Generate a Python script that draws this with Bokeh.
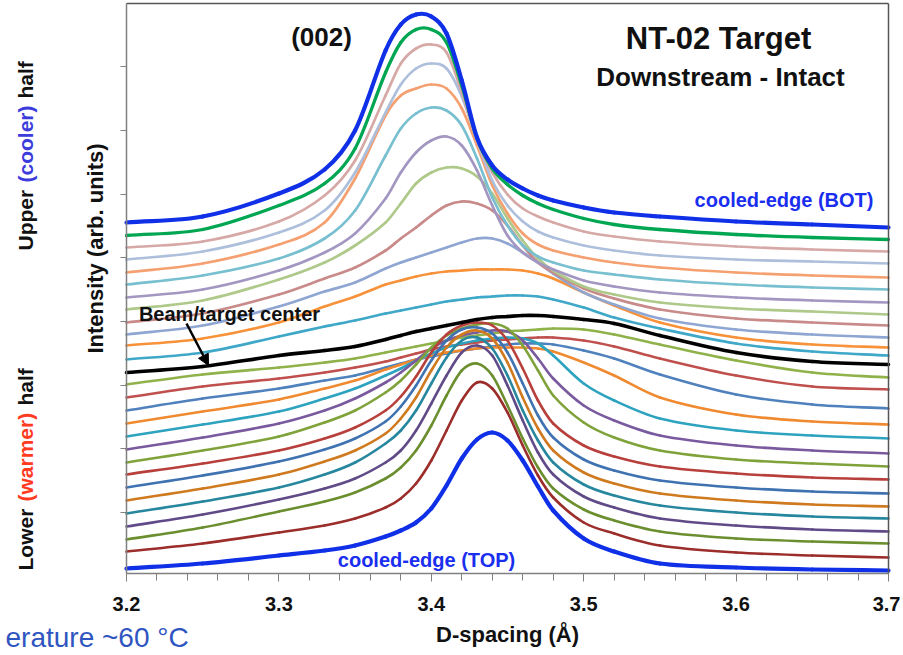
import math
from bokeh.plotting import figure
from bokeh.models import Range1d, FixedTicker, Label, Arrow, NormalHead, LinearAxis
from bokeh.embed import file_html
from bokeh.resources import INLINE

# ---------------- data (intensity, arb. units) ----------------
d_spacing = [3.20, 3.25, 3.30, 3.33, 3.35, 3.37, 3.38, 3.39, 3.40, 3.41, 3.42, 3.43,
             3.44, 3.45, 3.46, 3.47, 3.48, 3.50, 3.52, 3.55, 3.60, 3.65, 3.70]

# upper (cooler) half, from the cooled edge (BOT) down to the centre
bot_edge   = [351, 357, 380, 404, 443, 523, 549, 559, 557, 540, 493, 436, 408, 394, 385, 378, 373, 366, 361, 357, 352, 349, 346]
upper_02   = [338, 344, 368, 390, 425, 501, 531, 544, 544, 531, 488, 435, 405, 389, 378, 370, 364, 355, 349, 344, 339, 336, 334]
upper_03   = [326, 332, 352, 378, 413, 478, 510, 525, 529, 521, 481, 433, 401, 379, 365, 357, 351, 342, 337, 332, 327, 324, 322]
upper_04   = [314, 322, 341, 363, 401, 461, 489, 505, 510, 505, 477, 433, 393, 368, 352, 342, 336, 328, 323, 318, 314, 312, 310]
upper_05   = [301, 310, 329, 351, 395, 458, 478, 485, 489, 485, 465, 428, 388, 360, 340, 329, 323, 316, 311, 306, 301, 298, 296]
upper_06   = [289, 298, 315, 335, 363, 418, 445, 460, 466, 463, 448, 415, 376, 348, 328, 317, 311, 303, 299, 294, 289, 286, 284]
upper_07   = [276, 284, 303, 321, 340, 375, 401, 421, 433, 437, 428, 403, 368, 338, 321, 311, 304, 293, 287, 281, 276, 273, 271]
upper_08   = [264, 273, 294, 311, 328, 351, 370, 390, 401, 406, 405, 397, 380, 355, 333, 315, 303, 287, 279, 271, 265, 262, 259]
upper_09   = [251, 260, 279, 295, 306, 323, 335, 346, 358, 368, 372, 370, 363, 348, 328, 311, 301, 285, 275, 264, 255, 251, 248]
upper_10   = [239, 248, 267, 282, 291, 305, 311, 316, 321, 326, 331, 335, 335, 330, 321, 311, 300, 281, 269, 255, 244, 239, 236]
upper_11   = [228, 235, 251, 267, 277, 289, 293, 297, 300, 302, 303, 304, 304, 304, 303, 300, 295, 281, 268, 251, 236, 229, 226]
upper_12   = [214, 221, 237, 247, 253, 260, 263, 266, 269, 272, 274, 276, 277, 278, 278, 277, 274, 266, 256, 245, 230, 222, 218]
center     = [201, 207, 218, 223, 227, 234, 238, 242, 245, 248, 251, 254, 256, 257, 258, 258, 257, 254, 250, 238, 221, 212, 209]
# lower (warmer) half, from the centre down to the cooled edge (TOP)
lower_14   = [189, 199, 206, 211, 215, 221, 224, 227, 230, 233, 236, 238, 240, 242, 243, 244, 245, 244, 239, 229, 213, 201, 196]
lower_13   = [176, 187, 195, 201, 206, 212, 216, 220, 224, 227, 229, 231, 233, 234, 235, 236, 236, 233, 227, 215, 198, 187, 184]
lower_12   = [163, 175, 185, 193, 198, 206, 210, 214, 217, 220, 223, 225, 227, 229, 230, 230, 229, 223, 215, 199, 179, 169, 165]
lower_11   = [150, 162, 174, 185, 193, 204, 209, 214, 218, 221, 223, 225, 226, 226, 226, 225, 222, 211, 198, 176, 159, 152, 149]
lower_10   = [137, 149, 162, 175, 185, 198, 205, 213, 220, 226, 230, 233, 235, 236, 235, 230, 218, 190, 173, 155, 143, 138, 135]
lower_09   = [124, 136, 150, 163, 175, 191, 201, 213, 225, 233, 238, 241, 243, 242, 233, 215, 195, 168, 153, 138, 128, 123, 120]
lower_08   = [111, 123, 137, 151, 163, 181, 193, 209, 226, 238, 245, 249, 250, 245, 228, 203, 178, 151, 136, 123, 114, 110, 107]
lower_07   = [99, 110, 123, 135, 146, 163, 177, 197, 221, 239, 248, 251, 248, 233, 205, 173, 150, 128, 117, 107, 100, 96, 94]
lower_06   = [86, 98, 112, 124, 135, 152, 167, 188, 213, 233, 244, 246, 240, 221, 190, 158, 136, 114, 103, 93, 86, 82, 80]
lower_05   = [73, 85, 99, 112, 123, 140, 155, 176, 203, 226, 239, 243, 235, 211, 176, 145, 123, 101, 90, 80, 73, 69, 67]
lower_04   = [60, 72, 86, 99, 111, 130, 143, 163, 190, 216, 233, 236, 225, 198, 163, 133, 111, 89, 78, 68, 61, 57, 55]
lower_03   = [47, 59, 74, 85, 95, 111, 123, 143, 170, 198, 221, 228, 218, 188, 153, 121, 99, 77, 66, 55, 48, 44, 42]
lower_02   = [34, 46, 62, 72, 81, 95, 106, 123, 148, 178, 203, 210, 198, 168, 135, 106, 85, 64, 53, 42, 35, 32, 30]
lower_01   = [22, 30, 41, 48, 55, 66, 75, 90, 113, 143, 173, 191, 185, 161, 128, 98, 76, 51, 40, 28, 21, 18, 16]
top_edge   = [5, 10, 18, 23, 28, 37, 43, 51, 65, 88, 115, 134, 141, 133, 113, 87, 63, 35, 22, 10, 6, 4, 3]

x_ticks = [3.2, 3.3, 3.4, 3.5, 3.6, 3.7]
x_tick_labels = ["3.2", "3.3", "3.4", "3.5", "3.6", "3.7"]
x_minor = [3.22, 3.24, 3.26, 3.28, 3.32, 3.34, 3.36, 3.38, 3.42, 3.44, 3.46, 3.48,
           3.52, 3.54, 3.56, 3.58, 3.62, 3.64, 3.66, 3.68]
x_min, x_max = 3.2, 3.7
y_min, y_max = 0, 570

# (series, colour, width) in drawing order
series = [
    (lower_14, "#8fb24a", 2.6), (lower_13, "#c0504d", 2.6), (lower_12, "#4f81bd", 2.6),
    (lower_11, "#f08a30", 2.6), (lower_10, "#2ea3bf", 2.6), (lower_09, "#7a5a9e", 2.6),
    (lower_08, "#7fa33a", 2.6), (lower_07, "#b8403c", 2.6), (lower_06, "#3f72b0", 2.6),
    (lower_05, "#d07a20", 2.6), (lower_04, "#26879e", 2.6), (lower_03, "#604a87", 2.6),
    (lower_02, "#6b8e2e", 2.6), (lower_01, "#9b2d2a", 2.6),
    (upper_12, "#3fa8c8", 2.7), (upper_11, "#f7923a", 2.7), (upper_10, "#8fa6d2", 2.7),
    (upper_09, "#c98a8a", 2.7), (upper_08, "#aec98a", 2.7), (upper_07, "#a397c2", 2.7),
    (upper_06, "#78bfd0", 2.7), (upper_05, "#f5a070", 2.7), (upper_04, "#aebfdc", 2.7),
    (upper_03, "#d6a9a6", 2.7), (upper_02, "#00a651", 3.3),
    (top_edge, "#1030e8", 4.2), (bot_edge, "#1030e8", 4.2), (center, "#000000", 3.6),
]

FONT = "Liberation Sans"
W, H = 900, 654            # canvas
PLOT_L, PLOT_R, PLOT_B = 126, 888, 573   # plot box on the canvas (px)
XS = (PLOT_R - PLOT_L) / (x_max - x_min)  # px per Å


def smooth(xs, ys):
    """Cubic Hermite (Excel-like smoothed line) through the points, as Bezier segments."""
    n = len(xs)
    m = []
    for i in range(n):
        a = max(i - 1, 0)
        b = min(i + 1, n - 1)
        m.append((ys[b] - ys[a]) / (xs[b] - xs[a]))
    seg = dict(x0=[], y0=[], x1=[], y1=[], cx0=[], cy0=[], cx1=[], cy1=[])
    for i in range(n - 1):
        h = xs[i + 1] - xs[i]
        seg["x0"].append(xs[i]); seg["y0"].append(ys[i])
        seg["x1"].append(xs[i + 1]); seg["y1"].append(ys[i + 1])
        seg["cx0"].append(xs[i] + h / 3); seg["cy0"].append(ys[i] + m[i] * h / 3)
        seg["cx1"].append(xs[i + 1] - h / 3); seg["cy1"].append(ys[i + 1] - m[i + 1] * h / 3)
    return seg


# the frame covers the whole canvas so that side texts are not clipped;
# the axes are pinned to the plot box with fixed_location
p = figure(frame_width=W, frame_height=H, output_backend="svg", toolbar_location=None,
           x_range=Range1d(x_min - PLOT_L / XS, x_min + (W - PLOT_L) / XS),
           y_range=Range1d(PLOT_B - H, PLOT_B),
           min_border_left=0, min_border_right=0, min_border_top=0, min_border_bottom=0)
p.background_fill_color = "white"
p.border_fill_color = "white"
p.outline_line_color = None
p.xgrid.visible = False
p.ygrid.visible = False

for ys, col, lw in series:
    p.bezier(**smooth(d_spacing, ys), line_color=col, line_width=lw, line_cap="round")

# axes
xa = p.xaxis[0]
xa.fixed_location = y_min
xa.bounds = (x_min, x_max)
xa.ticker = FixedTicker(ticks=x_ticks, minor_ticks=x_minor)
xa.major_label_overrides = {t: l for t, l in zip(x_ticks, x_tick_labels)}
xa.axis_line_color = "#808080"
xa.axis_line_width = 1.5
xa.major_tick_line_color = "#808080"
xa.minor_tick_line_color = "#808080"
xa.major_tick_out = 8
xa.major_tick_in = 0
xa.minor_tick_out = 7
xa.minor_tick_in = 0
xa.major_label_standoff = 15
xa.major_label_text_font = FONT
xa.major_label_text_font_style = "bold"
xa.major_label_text_font_size = "20px"
xa.major_label_text_color = "#111111"
xa.axis_label = "D-spacing (Å)"
xa.axis_label_text_font = FONT
xa.axis_label_text_font_style = "bold"
xa.axis_label_text_font_size = "22px"
xa.axis_label_text_color = "#111111"
xa.axis_label_standoff = 8

y_ticks = [61 + 63.7 * k for k in range(8)]
ya = p.yaxis[0]
ya.fixed_location = x_min
ya.bounds = (y_min, y_max)
ya.ticker = FixedTicker(ticks=y_ticks, minor_ticks=[])
ya.major_label_overrides = {t: "" for t in y_ticks}
ya.axis_line_color = "#808080"
ya.axis_line_width = 1.5
ya.major_tick_line_color = "#808080"
ya.major_tick_out = 6
ya.major_tick_in = 0
ya.minor_tick_line_color = None

# top and right edges of the plot box
for loc, fixed, bnds in (("above", y_max, (x_min, x_max)), ("right", x_max, (y_min, y_max))):
    ax = LinearAxis(fixed_location=fixed, bounds=bnds, ticker=FixedTicker(ticks=[]),
                    axis_line_color="#555555", axis_line_width=1.5,
                    major_tick_line_color=None, minor_tick_line_color=None)
    p.add_layout(ax, loc)


def px_x(px):
    return x_min + (px - PLOT_L) / XS


def px_y(py):
    return PLOT_B - py


def lab(text, px, py, size, color="#111111", align="center", baseline="middle",
        angle=0.0, style="bold", font=FONT):
    p.add_layout(Label(x=px_x(px), y=px_y(py), text=text, text_align=align,
                       text_baseline=baseline, angle=angle, text_color=color,
                       text_font=font, text_font_style=style, text_font_size=size))


lab("(002)", 321, 36, "26px")
lab("NT-02 Target", 718, 38, "31px")
lab("Downstream - Intact", 720, 76, "26px")
lab("cooled-edge (BOT)", 873, 199, "20px", color="#1a2ef0", align="right")
lab("cooled-edge (TOP)", 426, 559, "20px", color="#1a2ef0")
lab("Beam/target center", 229, 313, "20px")

up = math.pi / 2
lab("Intensity (arb. units)", 95, 248, "22px", angle=up)
lab("Upper", 25, 250, "21px", align="left", angle=up)
lab("(cooler)", 25, 182, "21px", color="#3c3cdc", align="left", angle=up)
lab("half", 25, 98, "21px", align="left", angle=up)
lab("Lower", 25, 570, "21px", align="left", angle=up)
lab("(warmer)", 25, 501, "21px", color="#ff3b1f", align="left", angle=up)
lab("half", 25, 405, "21px", align="left", angle=up)
lab("erature ~60 °C", 5, 637, "28px", color="#2f55c0", align="left",
    baseline="middle", style="normal")

p.add_layout(Arrow(end=NormalHead(size=11, fill_color="black", line_color="black"),
                   x_start=px_x(186), y_start=px_y(323), x_end=px_x(208), y_end=px_y(365),
                   line_color="black", line_width=2.5))

open("out.html", "w").write(file_html(p, INLINE))
